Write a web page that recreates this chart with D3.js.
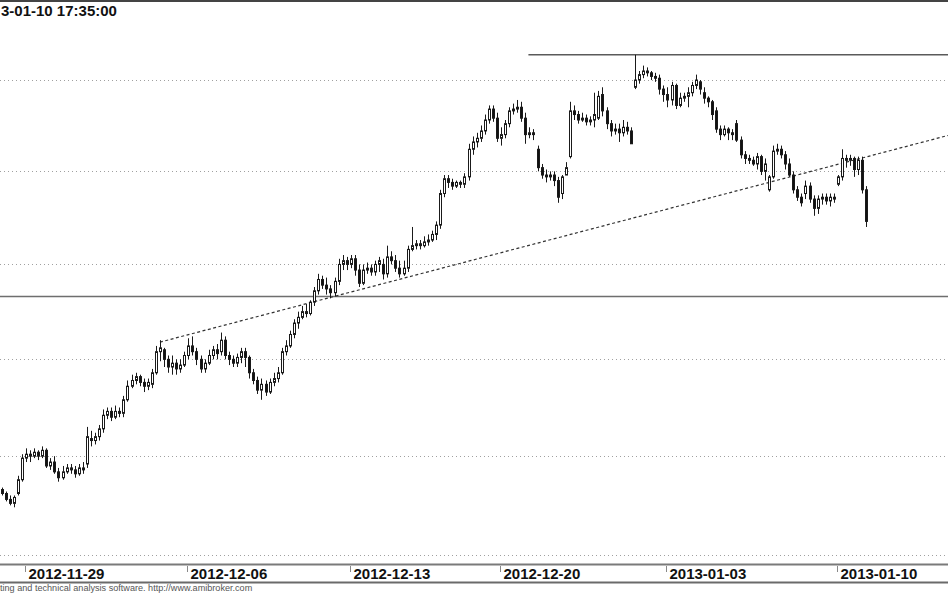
<!DOCTYPE html>
<html>
<head>
<meta charset="utf-8">
<script src="https://cdn.jsdelivr.net/npm/d3@7"></script>
<style>
  body { margin: 0; background: #fff; }
  svg { display: block; font-family: "Liberation Sans", Arial, sans-serif; }
</style>
</head>
<body>
<div id="chart"></div>
<script>
var svgWidth = 948;
var svgHeight = 593;

// trading days and number of hourly bars drawn for each one
var days = ["2012-11-28", "2012-11-29", "2012-11-30", "2012-12-03", "2012-12-04", "2012-12-05",
  "2012-12-06", "2012-12-07", "2012-12-10", "2012-12-11", "2012-12-12",
  "2012-12-13", "2012-12-14", "2012-12-17", "2012-12-18", "2012-12-19",
  "2012-12-20", "2012-12-21", "2012-12-27", "2012-12-28", "2013-01-02",
  "2013-01-03", "2013-01-04", "2013-01-07", "2013-01-08", "2013-01-09", "2013-01-10"];
var barsPerDay = [6, 8, 8, 8, 8, 8, 8, 8, 8, 8, 8, 8, 7, 8, 7, 7, 9, 8, 8, 8, 8, 9, 8, 9, 8, 8, 8];
var tickDays = ["2012-11-29", "2012-12-06", "2012-12-13", "2012-12-20", "2013-01-03", "2013-01-10"];

// hourly OHLC, one row per day
var open = [
  2433, 2431, 2428, 2426, 2431, 2438,
  2449, 2451, 2450, 2452, 2450, 2453, 2445, 2447,
  2442, 2439, 2442, 2444, 2443, 2441, 2443, 2446,
  2459, 2458, 2460, 2464, 2471, 2473, 2470, 2473,
  2472, 2479, 2486, 2489, 2491, 2488, 2486, 2487,
  2493, 2504, 2505, 2500, 2496, 2498, 2495, 2497,
  2502, 2507, 2504, 2500, 2495, 2498, 2502, 2505,
  2504, 2510, 2502, 2500, 2498, 2501, 2504, 2501,
  2493, 2489, 2484, 2487, 2483, 2488, 2490, 2493,
  2504, 2507, 2513, 2519, 2522, 2525, 2524, 2530,
  2536, 2542, 2539, 2537, 2535, 2541, 2550, 2552,
  2550, 2553, 2547, 2540, 2547, 2548, 2546, 2550,
  2550, 2545, 2554, 2552, 2548, 2545, 2548,
  2558, 2560, 2561, 2560, 2562, 2563, 2566, 2571,
  2588, 2596, 2594, 2592, 2594, 2593, 2597,
  2612, 2616, 2618, 2622, 2628, 2634, 2629,
  2618, 2620, 2626, 2633, 2634, 2635, 2629, 2620, 2621,
  2612, 2602, 2598, 2597, 2598, 2595, 2588, 2598,
  2608, 2633, 2631, 2628, 2629, 2627, 2628, 2629,
  2642, 2633, 2626, 2622, 2623, 2621, 2624, 2622,
  2646, 2650, 2653, 2655, 2654, 2652, 2651, 2645,
  2642, 2639, 2647, 2636, 2640, 2641, 2643, 2647, 2649,
  2643, 2640, 2638, 2633, 2623, 2620, 2623, 2621,
  2626, 2617, 2609, 2607, 2606, 2604, 2608, 2600, 2590,
  2597, 2611, 2612, 2609, 2604, 2598, 2590, 2586,
  2588, 2592, 2585, 2580, 2585, 2586, 2584, 2586,
  2593, 2597, 2607, 2606, 2607, 2601, 2606, 2590
];
var high = [
  2434, 2432, 2430, 2430, 2440, 2451,
  2454, 2453, 2454, 2453, 2455, 2454, 2449, 2450,
  2444, 2445, 2446, 2446, 2445, 2446, 2447, 2465,
  2463, 2462, 2466, 2474, 2475, 2475, 2476, 2475,
  2481, 2489, 2492, 2493, 2492, 2490, 2490, 2495,
  2507, 2510, 2506, 2502, 2502, 2500, 2500, 2504,
  2511, 2512, 2506, 2502, 2500, 2505, 2507, 2508,
  2514, 2512, 2504, 2502, 2503, 2506, 2506, 2502,
  2495, 2491, 2490, 2489, 2490, 2493, 2496, 2506,
  2510, 2515, 2521, 2525, 2528, 2529, 2531, 2538,
  2545, 2544, 2543, 2539, 2543, 2553, 2555, 2554,
  2555, 2555, 2550, 2550, 2551, 2550, 2552, 2554,
  2553, 2560, 2557, 2555, 2552, 2552, 2560,
  2570, 2563, 2563, 2565, 2566, 2568, 2573, 2590,
  2598, 2598, 2596, 2595, 2595, 2599, 2615,
  2619, 2621, 2625, 2631, 2636, 2636, 2632,
  2624, 2628, 2635, 2637, 2639, 2638, 2632, 2624, 2623,
  2614, 2604, 2601, 2600, 2600, 2597, 2598, 2605,
  2638, 2636, 2633, 2632, 2631, 2630, 2643, 2644,
  2646, 2635, 2628, 2626, 2626, 2628, 2627, 2624,
  2664, 2655, 2658, 2657, 2655, 2654, 2653, 2647,
  2646, 2649, 2648, 2643, 2643, 2646, 2649, 2653, 2650,
  2646, 2641, 2639, 2635, 2625, 2625, 2624, 2623,
  2628, 2619, 2611, 2609, 2608, 2610, 2609, 2607, 2598,
  2614, 2615, 2614, 2611, 2607, 2600, 2592, 2588,
  2595, 2594, 2587, 2587, 2588, 2588, 2588, 2588,
  2598, 2612, 2609, 2609, 2608, 2608, 2608, 2592
];
var low = [
  2430, 2427, 2425, 2424, 2430, 2437,
  2447, 2447, 2449, 2448, 2449, 2444, 2443, 2441,
  2437, 2438, 2441, 2441, 2439, 2440, 2441, 2444,
  2455, 2456, 2458, 2462, 2469, 2468, 2469, 2470,
  2470, 2478, 2485, 2487, 2486, 2483, 2484, 2485,
  2492, 2499, 2496, 2493, 2492, 2492, 2493, 2496,
  2500, 2502, 2497, 2493, 2493, 2497, 2500, 2500,
  2502, 2500, 2497, 2496, 2496, 2498, 2496, 2490,
  2487, 2482, 2479, 2481, 2482, 2486, 2488, 2492,
  2502, 2506, 2511, 2516, 2521, 2522, 2523, 2528,
  2534, 2537, 2534, 2532, 2533, 2539, 2547, 2547,
  2548, 2544, 2538, 2539, 2545, 2544, 2544, 2546,
  2542, 2543, 2550, 2546, 2543, 2544, 2546,
  2557, 2558, 2558, 2559, 2560, 2562, 2563, 2569,
  2586, 2591, 2590, 2591, 2591, 2591, 2595,
  2609, 2613, 2616, 2620, 2626, 2627, 2616,
  2614, 2618, 2624, 2631, 2632, 2627, 2615, 2618, 2617,
  2600, 2596, 2594, 2595, 2592, 2583, 2585, 2598,
  2607, 2628, 2626, 2627, 2625, 2625, 2624, 2628,
  2630, 2623, 2619, 2620, 2616, 2619, 2620, 2615,
  2645, 2648, 2651, 2652, 2650, 2649, 2642, 2638,
  2635, 2636, 2634, 2635, 2638, 2635, 2641, 2645, 2642,
  2637, 2635, 2628, 2621, 2617, 2619, 2617, 2617,
  2616, 2607, 2604, 2604, 2603, 2601, 2598, 2595, 2589,
  2596, 2609, 2607, 2601, 2597, 2588, 2584, 2581,
  2585, 2583, 2576, 2577, 2582, 2582, 2581, 2583,
  2592, 2595, 2602, 2603, 2597, 2598, 2588, 2570
];
var close = [
  2431, 2428, 2426, 2429, 2438, 2449,
  2451, 2450, 2452, 2450, 2453, 2445, 2447, 2442,
  2439, 2442, 2444, 2443, 2441, 2444, 2444, 2460,
  2458, 2460, 2464, 2471, 2473, 2470, 2473, 2472,
  2479, 2486, 2489, 2491, 2488, 2486, 2488, 2493,
  2504, 2506, 2500, 2496, 2498, 2495, 2497, 2502,
  2507, 2504, 2500, 2495, 2498, 2502, 2505, 2503,
  2510, 2502, 2500, 2498, 2501, 2504, 2501, 2493,
  2489, 2484, 2487, 2483, 2488, 2490, 2493, 2504,
  2507, 2513, 2519, 2522, 2525, 2524, 2530, 2536,
  2542, 2539, 2537, 2535, 2541, 2550, 2552, 2550,
  2553, 2547, 2540, 2547, 2548, 2546, 2550, 2552,
  2545, 2554, 2552, 2548, 2545, 2548, 2558,
  2560, 2561, 2560, 2562, 2563, 2566, 2571, 2588,
  2596, 2594, 2592, 2594, 2593, 2597, 2612,
  2616, 2618, 2622, 2628, 2634, 2629, 2618,
  2620, 2626, 2633, 2634, 2635, 2629, 2620, 2621, 2620,
  2602, 2598, 2597, 2598, 2595, 2586, 2597, 2602,
  2633, 2631, 2628, 2629, 2627, 2628, 2631, 2641,
  2633, 2626, 2622, 2623, 2621, 2624, 2622, 2615,
  2650, 2653, 2655, 2654, 2652, 2651, 2645, 2642,
  2639, 2647, 2636, 2640, 2641, 2643, 2647, 2650, 2645,
  2640, 2638, 2631, 2623, 2620, 2623, 2621, 2620,
  2617, 2609, 2607, 2606, 2604, 2608, 2600, 2604, 2597,
  2611, 2612, 2609, 2604, 2598, 2590, 2586, 2583,
  2592, 2585, 2580, 2585, 2586, 2584, 2586, 2585,
  2597, 2607, 2606, 2607, 2601, 2606, 2590, 2573
];

// price grid and drawn studies
var gridLevels = [2400, 2450, 2500, 2550, 2600, 2650];
var supportLevel = 2533;
var peakLevel = 2664;
var peakFromBar = 130;
var trendBars = [39, 189];
var trendPrices = [2509, 2594];

// visible parts of the header and footer strings
var titleText = "3-01-10 17:35:00";
var footerText = "ting and technical analysis software. http://www.amibroker.com";

// build bar records
var bars = [];
var dayStart = {};
days.forEach(function(day, d) {
  dayStart[day] = bars.length;
  for (var k = 0; k < barsPerDay[d]; k++) {
    var i = bars.length;
    bars.push({ i: i, day: day, o: open[i], h: high[i], l: low[i], c: close[i] });
  }
});

var plotTop = 2;
var plotBottom = 564;

var svg = d3.select("#chart")
  .append("svg")
  .attr("width", svgWidth)
  .attr("height", svgHeight);

svg.append("rect")
  .attr("width", svgWidth)
  .attr("height", svgHeight)
  .attr("fill", "#fff");

// scales: bar index -> x, log price -> y
var xScale = d3.scaleLinear()
  .domain([0, bars.length - 1])
  .range([1.6, 866.4]);

var yScale = d3.scaleLog()
  .domain([2395.5, 2693.5])
  .range([plotBottom, plotTop]);

var cx = function(i) { return Math.round(xScale(i)) + 0.5; };

// dotted grid
svg.append("g")
  .selectAll("line")
  .data(gridLevels)
  .enter()
  .append("line")
  .attr("x1", 0)
  .attr("x2", svgWidth)
  .attr("y1", d => Math.round(yScale(d)) + 0.5)
  .attr("y2", d => Math.round(yScale(d)) + 0.5)
  .attr("stroke", "#a0a0a0")
  .attr("stroke-width", 1)
  .attr("stroke-dasharray", "1,3");

// horizontal study lines
svg.append("line")
  .attr("x1", 0)
  .attr("x2", svgWidth)
  .attr("y1", yScale(supportLevel))
  .attr("y2", yScale(supportLevel))
  .attr("stroke", "#6e6e6e")
  .attr("stroke-width", 1.6);

svg.append("line")
  .attr("x1", xScale(peakFromBar) - 1)
  .attr("x2", svgWidth)
  .attr("y1", yScale(peakLevel))
  .attr("y2", yScale(peakLevel))
  .attr("stroke", "#5a5a5a")
  .attr("stroke-width", 1.4);

// dashed trend line, extended to the right edge
var tx1 = xScale(trendBars[0]), ty1 = yScale(trendPrices[0]);
var tx2 = xScale(trendBars[1]), ty2 = yScale(trendPrices[1]);
var slope = (ty2 - ty1) / (tx2 - tx1);
svg.append("line")
  .attr("x1", tx1)
  .attr("y1", ty1)
  .attr("x2", svgWidth)
  .attr("y2", ty1 + slope * (svgWidth - tx1))
  .attr("stroke", "#333")
  .attr("stroke-width", 1.2)
  .attr("stroke-dasharray", "3,2.5");

// candles
var candles = svg.append("g").selectAll("g")
  .data(bars)
  .enter()
  .append("g");

candles.append("line")
  .attr("x1", d => cx(d.i))
  .attr("x2", d => cx(d.i))
  .attr("y1", d => yScale(d.h))
  .attr("y2", d => yScale(d.l))
  .attr("stroke", "#1a1a1a")
  .attr("stroke-width", 1);

candles.append("rect")
  .attr("x", d => cx(d.i) - 1)
  .attr("width", 2)
  .attr("y", d => yScale(Math.max(d.o, d.c)))
  .attr("height", d => Math.max(1, Math.abs(yScale(d.o) - yScale(d.c))))
  .attr("fill", d => d.c >= d.o ? "#ffffff" : "#111111")
  .attr("stroke", "#1a1a1a")
  .attr("stroke-width", 1);

// top frame and title
svg.append("rect")
  .attr("x", 0)
  .attr("y", 0)
  .attr("width", svgWidth)
  .attr("height", 2)
  .attr("fill", "#444");

svg.append("text")
  .attr("x", 1)
  .attr("y", 16)
  .style("font-size", "15px")
  .style("font-weight", "bold")
  .attr("fill", "#111")
  .text(titleText);

// date axis
var xAxis = svg.append("g").attr("class", "x-axis");

xAxis.append("line")
  .attr("x1", 0).attr("x2", svgWidth)
  .attr("y1", 564.5).attr("y2", 564.5)
  .attr("stroke", "#7a7a7a")
  .attr("stroke-width", 2);

xAxis.append("line")
  .attr("x1", 0).attr("x2", svgWidth)
  .attr("y1", 582.5).attr("y2", 582.5)
  .attr("stroke", "#6a6a6a")
  .attr("stroke-width", 2);

var ticks = xAxis.selectAll(".tick")
  .data(tickDays)
  .enter()
  .append("g")
  .attr("class", "tick")
  .attr("transform", d => `translate(${cx(dayStart[d]) - 1}, 0)`);

ticks.append("line")
  .attr("y1", 566)
  .attr("y2", 572)
  .attr("stroke", "#888")
  .attr("stroke-width", 1);

ticks.append("text")
  .attr("x", 3)
  .attr("y", 579)
  .style("font-size", "15px")
  .style("font-weight", "bold")
  .attr("fill", "#111")
  .text(d => d);

// footer
svg.append("text")
  .attr("x", 0)
  .attr("y", 591)
  .style("font-size", "9.1px")
  .attr("fill", "#555")
  .text(footerText);
</script>
</body>
</html>
